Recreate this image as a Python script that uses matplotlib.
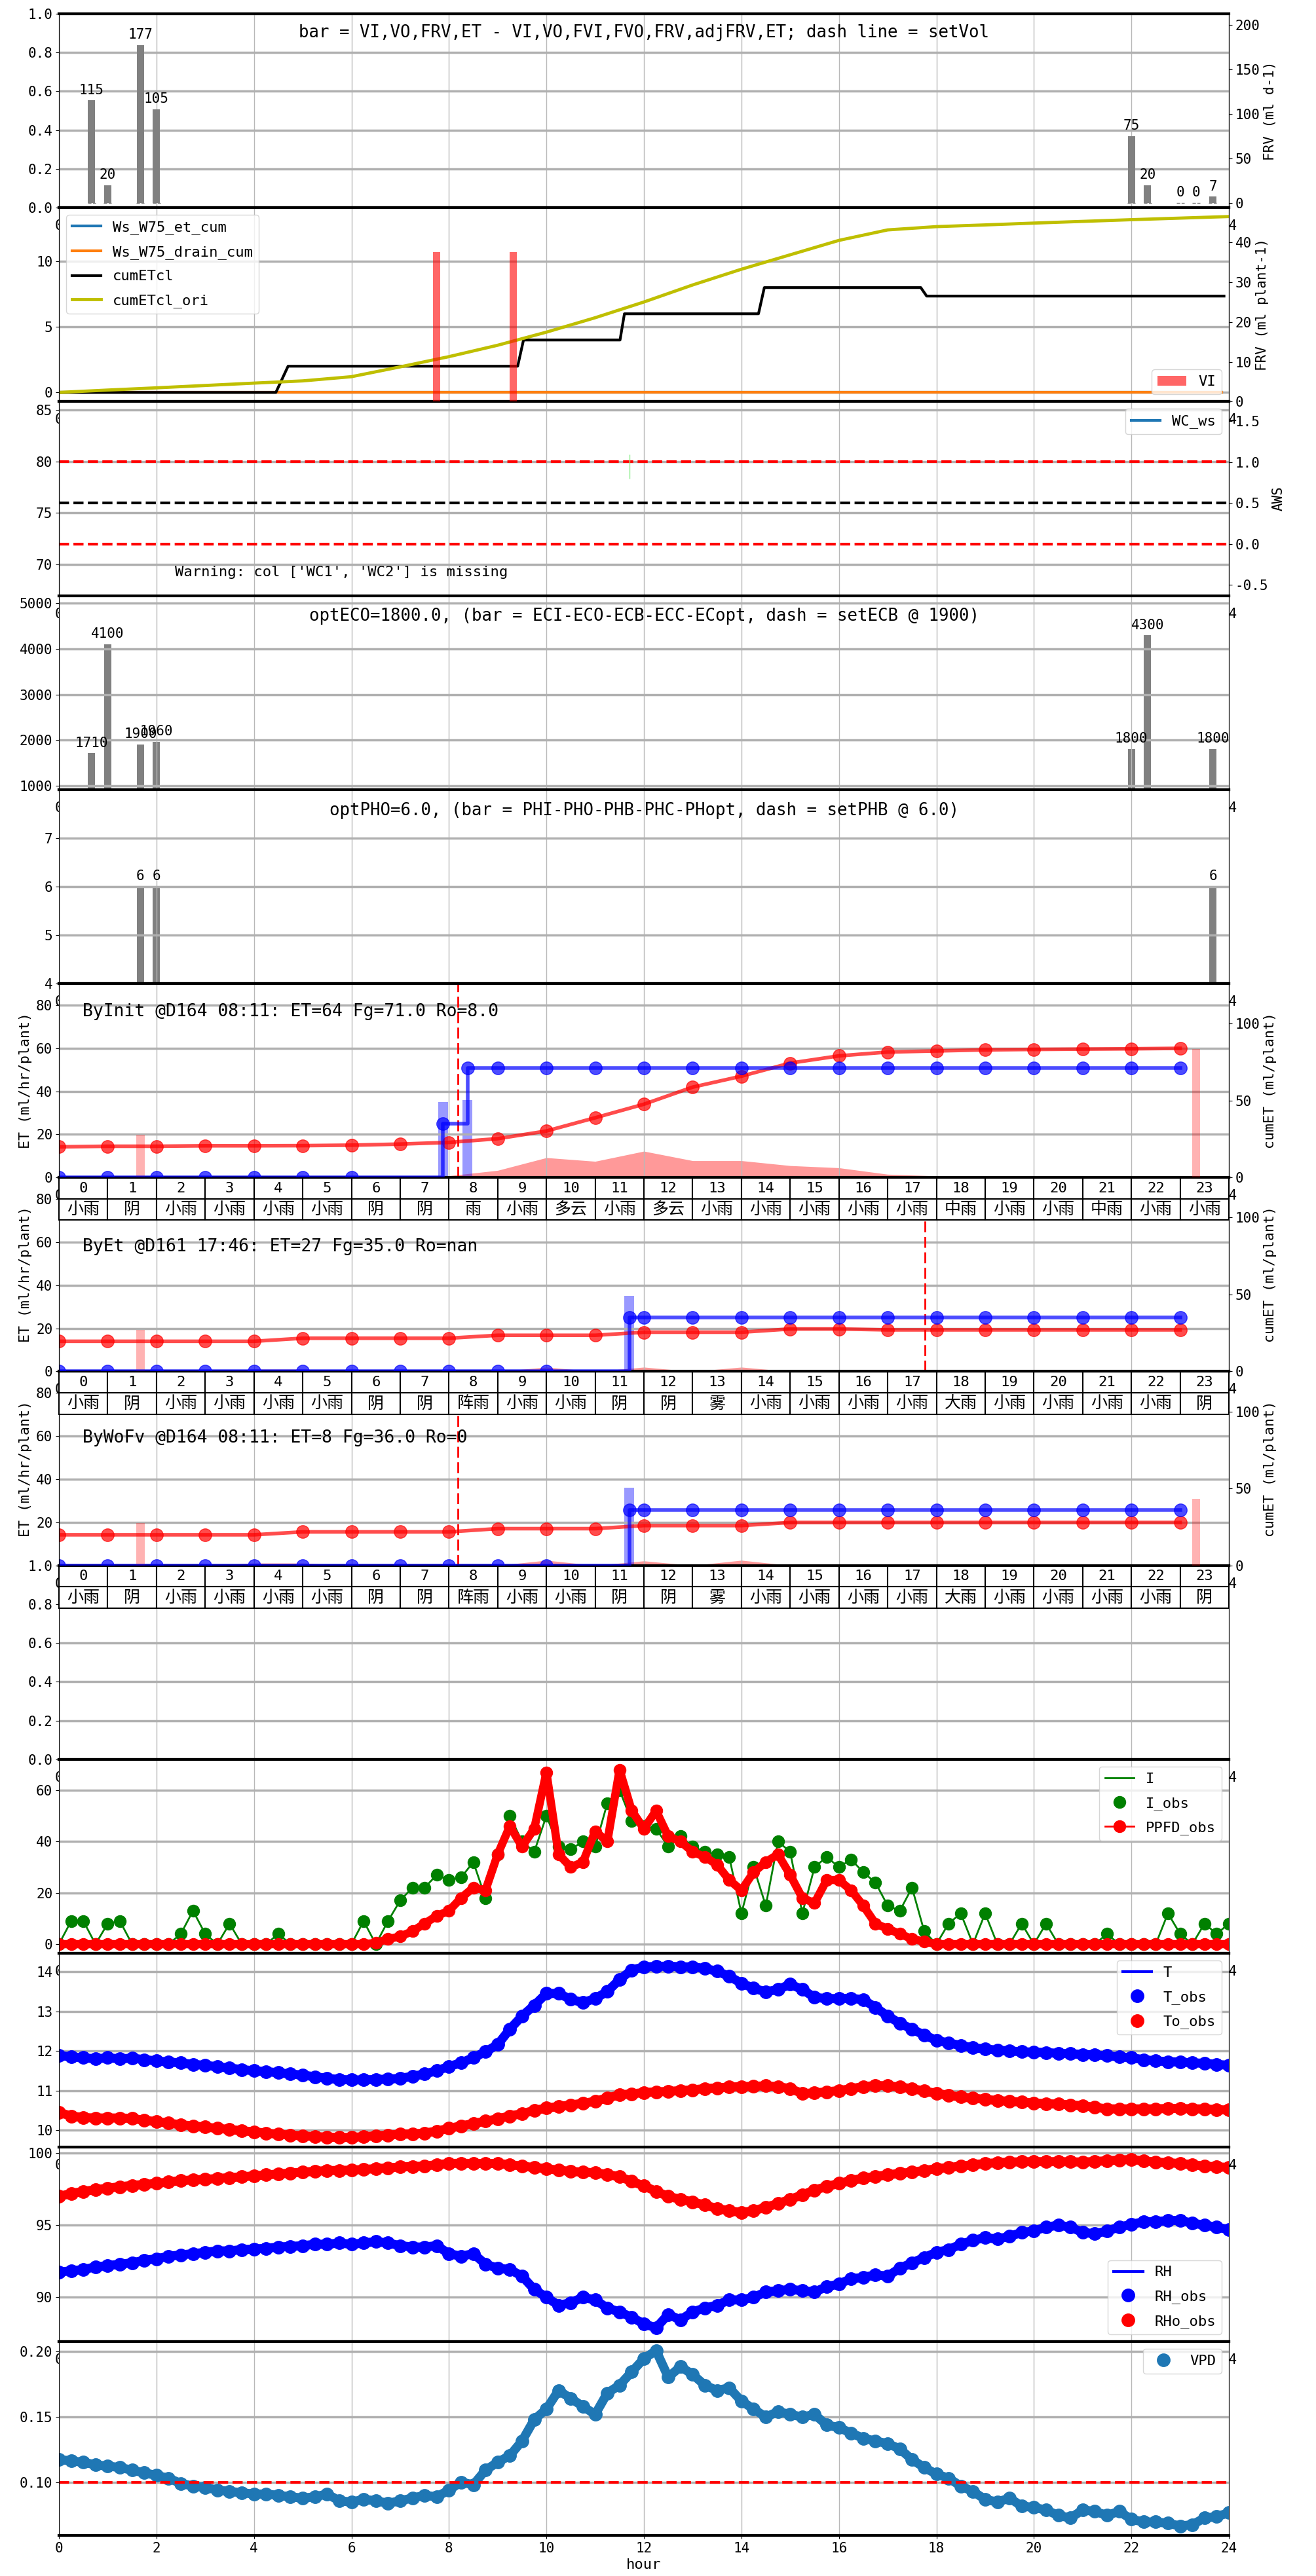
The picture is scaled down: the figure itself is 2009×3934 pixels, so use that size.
import numpy as np
import matplotlib.pyplot as plt

plt.rcParams['font.family'] = ['DejaVu Sans Mono', 'Noto Sans CJK SC']
plt.rcParams['axes.unicode_minus'] = False
plt.rcParams['font.size'] = 15

# ---------------- data ----------------
# FRV bars (ml d-1)
frv_hours = [0.67, 1.0, 1.67, 2.0, 22.0, 22.33, 23.0, 23.33, 23.67]
frv_vals = [115, 20, 177, 105, 75, 20, 0, 0, 7]
set_vol = [0, 0, 0, 0, 0, 0, 0, 0, 0]

# cumulative ET / drain
ws_hours = [0, 23.85]
ws_et_cum = [0, 0]
ws_drain_cum = [0, 0]
cl_hours = [0, 4.45, 4.7, 9.41, 9.53, 11.51, 11.6, 14.35, 14.47, 17.68, 17.8, 23.9]
cum_etcl = [0, 0, 2, 2, 4, 4, 6, 6, 8, 8, 7.35, 7.35]
ori_hours = list(range(25))
cum_etcl_ori = [0, 0.18, 0.35, 0.53, 0.71, 0.88, 1.2, 1.95, 2.73, 3.6, 4.6, 5.7, 6.9,
                8.2, 9.4, 10.5, 11.6, 12.4, 12.65, 12.78, 12.92, 13.05, 13.18, 13.3, 13.42]
vi_hours = [7.75, 9.32]
vi_vals = [37.5, 37.5]

# water content
wc_hi, wc_set, wc_lo = 80, 76, 72
wc_mark_hour = 11.7
wc_mark_range = [78.3, 80.7]

# EC and pH bars
ec_hours = [0.67, 1.0, 1.67, 2.0, 22.0, 22.33, 23.67]
ec_vals = [1710, 4100, 1900, 1960, 1800, 4300, 1800]
ph_hours = [1.67, 2.0, 23.67]
ph_vals = [6, 6, 6]

# ET panels
et_hours = list(range(24))
table_hours = [str(h) for h in range(24)]

init_et = [0, 0, 0, 0, 0, 0.2, 0.3, 0.5, 0.8, 3.3, 9.2, 7.5, 12.2, 7.8, 7.8, 5.5, 4.5,
           1.5, 0.7, 0.4, 0.3, 0.3, 0.2, 0.2]
init_cum = [19.9, 20.3, 20.3, 20.6, 20.6, 20.7, 21.0, 21.7, 22.8, 25.2, 30.2, 38.8, 47.6,
            58.7, 65.8, 74.3, 79.0, 81.5, 82.2, 82.9, 83.2, 83.4, 83.6, 83.9]
init_fg_hours = [0, 1, 2, 3, 4, 5, 6, 7.88, 8.38, 9, 10, 11, 12, 13, 14, 15, 16, 17, 18,
                 19, 20, 21, 22, 23]
init_fg = [0, 0, 0, 0, 0, 0, 0, 35, 71, 71, 71, 71, 71, 71, 71, 71, 71, 71, 71, 71, 71,
           71, 71, 71]
init_irr_hours = [7.88, 8.38]
init_irr = [35, 36]
init_pink_hours = [1.67, 23.33]
init_pink = [27.6, 83.6]
init_weather = ['小雨', '阴', '小雨', '小雨', '小雨', '小雨', '阴', '阴', '雨', '小雨', '多云',
                '小雨', '多云', '小雨', '小雨', '小雨', '小雨', '小雨', '中雨', '小雨', '小雨',
                '中雨', '小雨', '小雨']

byet_et = [0, 0, 0, 0, 1, 1, 0, 0, 0, 0, 2, 0, 2, 0, 2, 0, 0, 0, 0, 0, 0, 0, 0, 0]
byet_cum = [19.6, 19.6, 19.6, 19.6, 19.6, 21.6, 21.6, 21.6, 21.6, 23.5, 23.5, 23.5, 25.5,
            25.5, 25.5, 27.6, 27.6, 27.0, 27.0, 27.0, 27.0, 27.0, 27.0, 27.0]
byet_fg_hours = [0, 1, 2, 3, 4, 5, 6, 7, 8, 9, 10, 11.7, 12, 13, 14, 15, 16, 17, 18, 19,
                 20, 21, 22, 23]
byet_fg = [0, 0, 0, 0, 0, 0, 0, 0, 0, 0, 0, 35, 35, 35, 35, 35, 35, 35, 35, 35, 35, 35,
           35, 35]
byet_irr_hours = [11.7]
byet_irr = [35]
byet_pink_hours = [1.67]
byet_pink = [27.0]
byet_weather = ['小雨', '阴', '小雨', '小雨', '小雨', '小雨', '阴', '阴', '阵雨', '小雨', '小雨',
                '阴', '阴', '雾', '小雨', '小雨', '小雨', '小雨', '大雨', '小雨', '小雨', '小雨',
                '小雨', '阴']

wofv_et = [0, 0, 0, 0, 1.1, 1.1, 0, 0, 0, 0, 2.4, 0, 2.1, 0, 2.4, 0, 0, 0, 0, 0, 0, 0, 0, 0]
wofv_cum = [19.9, 19.9, 19.9, 19.9, 19.9, 21.8, 21.8, 21.8, 21.8, 23.9, 23.9, 23.9, 25.9,
            25.9, 25.9, 27.9, 27.9, 27.9, 27.9, 27.9, 27.9, 27.9, 27.9, 27.9]
wofv_fg_hours = byet_fg_hours
wofv_fg = [0, 0, 0, 0, 0, 0, 0, 0, 0, 0, 0, 36, 36, 36, 36, 36, 36, 36, 36, 36, 36, 36,
           36, 36]
wofv_irr_hours = [11.7]
wofv_irr = [36]
wofv_pink_hours = [1.67, 23.33]
wofv_pink = [27.4, 43.1]
wofv_weather = byet_weather

# observations every 15 min
obs_hours = np.arange(97) * 0.25
ppfd_obs = [0, 0, 0, 0, 0, 0, 0, 0, 0, 0, 0, 0, 0, 0, 0, 0, 0, 0, 0, 0, 0, 0, 0, 0, 0, 0,
            0.5, 2, 3, 5, 8, 11, 13, 18, 22, 21, 35, 46, 38, 45, 67, 35, 30, 32, 44, 40, 68,
            52, 45, 52, 42, 40, 36, 34, 31, 25, 21, 28, 32, 35, 27, 18, 16, 25, 25, 21, 15,
            8, 6, 4, 2, 1, 0, 0, 0, 0, 0, 0, 0, 0, 0, 0, 0, 0, 0, 0, 0, 0, 0, 0, 0, 0, 0, 0,
            0, 0, 0]
i_obs = [0, 9, 9, 0, 8, 9, 0, 0, 0, 0, 4, 13, 4, 0, 8, 0, 0, 0, 4, 0, 0, 0, 0, 0, 0, 9,
         0, 9, 17, 22, 22, 27, 25, 26, 32, 18, 35, 50, 40, 36, 50, 38, 37, 40, 38, 55, 60,
         48, 46, 45, 38, 42, 38, 36, 35, 34, 12, 30, 15, 40, 36, 12, 30, 34, 30, 33, 28,
         24, 15, 13, 22, 5, 0, 8, 12, 0, 12, 0, 0, 8, 0, 8, 0, 0, 0, 0, 4, 0, 0, 0, 0, 12,
         4, 0, 8, 4, 8]
t_obs = [11.89, 11.85, 11.83, 11.80, 11.83, 11.80, 11.82, 11.78, 11.75, 11.72, 11.70,
         11.66, 11.64, 11.60, 11.57, 11.53, 11.50, 11.48, 11.45, 11.42, 11.39, 11.35,
         11.31, 11.28, 11.27, 11.27, 11.28, 11.29, 11.31, 11.36, 11.42, 11.50, 11.61,
         11.70, 11.83, 11.98, 12.16, 12.55, 12.88, 13.15, 13.45, 13.45, 13.30, 13.22,
         13.32, 13.50, 13.80, 14.04, 14.12, 14.13, 14.14, 14.12, 14.12, 14.08, 14.01,
         13.88, 13.71, 13.58, 13.49, 13.55, 13.68, 13.55, 13.35, 13.32, 13.32, 13.33,
         13.29, 13.10, 12.88, 12.70, 12.55, 12.40, 12.27, 12.20, 12.14, 12.08, 12.05,
         12.02, 12.00, 11.98, 11.97, 11.96, 11.94, 11.93, 11.91, 11.90, 11.88, 11.85,
         11.83, 11.78, 11.75, 11.73, 11.72, 11.70, 11.69, 11.66, 11.64]
to_obs = [10.45, 10.36, 10.32, 10.31, 10.31, 10.31, 10.30, 10.25, 10.22, 10.18, 10.14,
          10.11, 10.08, 10.05, 10.02, 9.99, 9.96, 9.93, 9.90, 9.88, 9.86, 9.84, 9.83,
          9.82, 9.82, 9.84, 9.86, 9.88, 9.90, 9.91, 9.93, 9.98, 10.05, 10.11, 10.17,
          10.23, 10.29, 10.36, 10.42, 10.50, 10.56, 10.60, 10.64, 10.68, 10.73, 10.82,
          10.89, 10.92, 10.95, 10.97, 10.98, 11.00, 11.02, 11.05, 11.07, 11.09, 11.10,
          11.11, 11.12, 11.10, 11.05, 10.93, 10.94, 10.97, 11.00, 11.05, 11.10, 11.13,
          11.12, 11.09, 11.05, 10.99, 10.93, 10.88, 10.84, 10.81, 10.78, 10.75, 10.73,
          10.71, 10.69, 10.67, 10.66, 10.64, 10.62, 10.58, 10.54, 10.54, 10.54, 10.54,
          10.54, 10.55, 10.55, 10.54, 10.54, 10.52, 10.51]
rh_obs = [91.75, 91.84, 91.93, 92.11, 92.20, 92.30, 92.39, 92.57, 92.67, 92.85, 92.94,
          93.03, 93.12, 93.22, 93.22, 93.31, 93.35, 93.40, 93.49, 93.53, 93.58, 93.68,
          93.68, 93.77, 93.68, 93.77, 93.86, 93.77, 93.58, 93.49, 93.49, 93.58, 93.03,
          92.85, 93.03, 92.30, 92.02, 91.93, 91.47, 90.55, 90.00, 89.45, 89.63, 90.00,
          89.82, 89.26, 88.99, 88.62, 88.16, 87.89, 88.81, 88.44, 88.99, 89.26, 89.45,
          89.82, 89.82, 90.00, 90.37, 90.46, 90.55, 90.46, 90.37, 90.74, 90.92, 91.29,
          91.38, 91.56, 91.47, 92.02, 92.39, 92.76, 93.12, 93.31, 93.68, 93.95, 94.14,
          94.04, 94.23, 94.50, 94.60, 94.87, 95.00, 94.87, 94.50, 94.41, 94.60, 94.87,
          95.06, 95.24, 95.24, 95.33, 95.33, 95.15, 95.00, 94.87, 94.69]
rho_obs = [97.00, 97.20, 97.35, 97.46, 97.57, 97.67, 97.76, 97.83, 97.90, 98.00, 98.09,
           98.14, 98.18, 98.24, 98.30, 98.36, 98.42, 98.49, 98.55, 98.62, 98.68, 98.74,
           98.79, 98.80, 98.82, 98.87, 98.92, 98.98, 99.04, 99.07, 99.10, 99.20, 99.28,
           99.30, 99.28, 99.28, 99.28, 99.20, 99.10, 99.00, 98.92, 98.82, 98.73, 98.68,
           98.64, 98.52, 98.36, 98.05, 97.72, 97.35, 96.99, 96.80, 96.62, 96.40, 96.16,
           96.00, 95.88, 96.00, 96.25, 96.50, 96.80, 97.10, 97.44, 97.68, 97.90, 98.10,
           98.27, 98.38, 98.49, 98.60, 98.68, 98.80, 98.92, 99.00, 99.10, 99.20, 99.28,
           99.33, 99.38, 99.40, 99.41, 99.41, 99.41, 99.40, 99.38, 99.42, 99.47, 99.52,
           99.56, 99.47, 99.38, 99.33, 99.28, 99.20, 99.10, 99.05, 99.01]
vpd_obs = [0.1172, 0.1162, 0.1152, 0.1132, 0.1122, 0.1112, 0.1091, 0.1071, 0.1051,
           0.1030, 0.0990, 0.0970, 0.0960, 0.0939, 0.0929, 0.0919, 0.0909, 0.0909,
           0.0899, 0.0888, 0.0878, 0.0888, 0.0909, 0.0858, 0.0848, 0.0868, 0.0858,
           0.0838, 0.0858, 0.0878, 0.0899, 0.0888, 0.0939, 0.1000, 0.0980, 0.1091,
           0.1152, 0.1203, 0.1314, 0.1477, 0.1558, 0.1700, 0.1639, 0.1578, 0.1517,
           0.1680, 0.1740, 0.1842, 0.1943, 0.2004, 0.1801, 0.1882, 0.1822, 0.1740,
           0.1700, 0.1720, 0.1619, 0.1558, 0.1497, 0.1538, 0.1517, 0.1497, 0.1517,
           0.1436, 0.1416, 0.1375, 0.1335, 0.1314, 0.1294, 0.1254, 0.1172, 0.1112,
           0.1061, 0.1030, 0.0970, 0.0929, 0.0868, 0.0848, 0.0878, 0.0817, 0.0807,
           0.0787, 0.0746, 0.0726, 0.0787, 0.0777, 0.0746, 0.0777, 0.0716, 0.0696,
           0.0696, 0.0686, 0.0665, 0.0675, 0.0726, 0.0736, 0.0767]
vpd_limit = 0.10

# ---------------- figure ----------------
fig, axs = plt.subplots(13, 1, figsize=(20.09, 39.34), dpi=100, sharex=True,
                        gridspec_kw=dict(hspace=0))
fig.subplots_adjust(left=0.0448, right=0.9338, top=0.9947, bottom=0.0158)

for ax in axs:
    ax.set_xlim(0, 24)
    ax.set_xticks(range(0, 25, 2))
    ax.grid(axis='x', color='#b8b8b8', lw=1)
    ax.grid(axis='y', color='#b0b0b0', lw=2.5)
    ax.spines['top'].set_linewidth(3)
    ax.spines['bottom'].set_linewidth(3)
    ax.tick_params(labelsize=15)

# half hidden "0" / "24" labels peeking at the top of each panel
for ax in axs[1:]:
    pos = ax.get_position()
    fig.text(pos.x0, pos.y1 - 28 / 3934, '0', ha='center', va='center', fontsize=15, zorder=-1)
    fig.text(pos.x1, pos.y1 - 28 / 3934, '24', ha='center', va='center', fontsize=15, zorder=-1)

leg_kw = dict(fontsize=16, labelspacing=0.75)


def bar_labels(ax, xs, vals):
    for x, v in zip(xs, vals):
        ax.annotate(str(v), (x, v), xytext=(0, 4), textcoords='offset points',
                    ha='center', va='bottom', fontsize=15)


# panel 1: FRV
ax = axs[0]
ax.set_ylim(0, 1)
ax.set_yticks([0, 0.2, 0.4, 0.6, 0.8, 1.0])
ax.set_yticklabels(['0.0', '0.2', '0.4', '0.6', '0.8', '1.0'])
tw = ax.twinx()
tw.bar(frv_hours, frv_vals, width=0.15, color='gray')
tw.hlines(set_vol, np.array(frv_hours) - 0.08, np.array(frv_hours) + 0.08,
          colors='gray', linestyles='--', lw=1)
bar_labels(tw, frv_hours, frv_vals)
tw.set_ylim(-5.3, 212.4)
tw.set_yticks([0, 50, 100, 150, 200])
tw.set_ylabel('FRV (ml d-1)', fontsize=15)
tw.tick_params(labelsize=15)
ax.text(0.5, 0.9, 'bar = VI,VO,FRV,ET - VI,VO,FVI,FVO,FRV,adjFRV,ET; dash line = setVol',
        transform=ax.transAxes, ha='center', va='center', fontsize=18.5)

# panel 2: cumulative
ax = axs[1]
ax.plot(ws_hours, ws_et_cum, color='tab:blue', lw=3, label='Ws_W75_et_cum')
ax.plot(ws_hours, ws_drain_cum, color='tab:orange', lw=3, label='Ws_W75_drain_cum')
ax.plot(cl_hours, cum_etcl, color='black', lw=3, label='cumETcl')
ax.plot(ori_hours, cum_etcl_ori, color='y', lw=3.5, label='cumETcl_ori')
ax.set_ylim(-0.7, 14.1)
ax.set_yticks([0, 5, 10])
ax.legend(loc='upper left', **leg_kw)
tw = ax.twinx()
tw.bar(vi_hours, vi_vals, width=0.15, color='red', alpha=0.6, label='VI')
tw.set_ylim(0, 48.75)
tw.set_yticks([0, 10, 20, 30, 40])
tw.set_ylabel('FRV (ml plant-1)', fontsize=15)
tw.tick_params(labelsize=15)
tw.legend(loc='lower right', **leg_kw)

# panel 3: water content
ax = axs[2]
ax.plot([], [], color='tab:blue', lw=3, label='WC_ws')
ax.axhline(wc_hi, color='red', ls='--', lw=3)
ax.axhline(wc_set, color='black', ls='--', lw=3)
ax.axhline(wc_lo, color='red', ls='--', lw=3)
ax.vlines(wc_mark_hour, wc_mark_range[0], wc_mark_range[1], color='lightgreen', lw=1)
ax.set_ylim(67, 85.8)
ax.set_yticks([70, 75, 80, 85])
ax.legend(loc='upper right', **leg_kw)
ax.text(0.099, 0.12, "Warning: col ['WC1', 'WC2'] is missing", transform=ax.transAxes,
        ha='left', va='center', fontsize=16)
tw = ax.twinx()
tw.set_ylim(-0.63, 1.74)
tw.set_yticks([-0.5, 0.0, 0.5, 1.0, 1.5])
tw.set_ylabel('AWS', fontsize=15)
tw.tick_params(labelsize=15)

# panel 4: EC
ax = axs[3]
ax.bar(ec_hours, ec_vals, width=0.15, color='gray')
bar_labels(ax, ec_hours, ec_vals)
ax.set_ylim(912, 5170)
ax.set_yticks([1000, 2000, 3000, 4000, 5000])
ax.text(0.5, 0.895, 'optECO=1800.0, (bar = ECI-ECO-ECB-ECC-ECopt, dash = setECB @ 1900)',
        transform=ax.transAxes, ha='center', va='center', fontsize=18.5)

# panel 5: pH
ax = axs[4]
ax.bar(ph_hours, ph_vals, width=0.15, color='gray')
bar_labels(ax, ph_hours, ph_vals)
ax.set_ylim(4, 8)
ax.set_yticks([4, 5, 6, 7])
ax.text(0.5, 0.89, 'optPHO=6.0, (bar = PHI-PHO-PHB-PHC-PHopt, dash = setPHB @ 6.0)',
        transform=ax.transAxes, ha='center', va='center', fontsize=18.5)


# panels 6-8: ET
def et_panel(ax, z, et, cum, fg_h, fg, irr_h, irr, pink_h, pink, vline, label, label_y, weather):
    ax.set_zorder(z)
    tw = ax.twinx()
    tw.set_zorder(z + 0.5)
    ax.fill_between(et_hours, 0, et, color='red', alpha=0.4, lw=0)
    ax.bar(irr_h, irr, width=0.2, color='blue', alpha=0.4)
    ax.axvline(vline, color='red', ls=(0, (6, 2.5)), lw=2)
    ax.set_ylim(0, 90)
    ax.set_yticks([0, 20, 40, 60, 80])
    ax.set_ylabel('ET (ml/hr/plant)', fontsize=15.5)
    ax.text(0.48, label_y, label, ha='left', va='center', fontsize=19)
    tw.bar(pink_h, pink, width=0.17, color='red', alpha=0.3)
    tw.plot(et_hours, cum, 'o-', color='red', alpha=0.7, lw=4, ms=14)
    tw.plot(fg_h, fg, 'o-', color='blue', alpha=0.7, lw=4, ms=14, drawstyle='steps-post')
    tw.set_ylim(0, 126)
    tw.set_yticks([0, 50, 100])
    tw.set_ylabel('cumET (ml/plant)', fontsize=15.5)
    tw.tick_params(labelsize=15)
    tab = ax.table(cellText=[table_hours, weather], cellLoc='center',
                   bbox=[0, -0.22, 1, 0.22])
    tab.auto_set_font_size(False)
    tab.set_fontsize(18)
    for j in range(24):
        tab[0, j].get_text().set_fontsize(16)
        tab[0, j].set_linewidth(1.5)
        tab[1, j].set_linewidth(1.5)


et_panel(axs[5], 3, init_et, init_cum, init_fg_hours, init_fg, init_irr_hours, init_irr,
         init_pink_hours, init_pink, 8.183, 'ByInit @D164 08:11: ET=64 Fg=71.0 Ro=8.0', 77,
         init_weather)
et_panel(axs[6], 2, byet_et, byet_cum, byet_fg_hours, byet_fg, byet_irr_hours, byet_irr,
         byet_pink_hours, byet_pink, 17.767, 'ByEt @D161 17:46: ET=27 Fg=35.0 Ro=nan', 58,
         byet_weather)
et_panel(axs[7], 1, wofv_et, wofv_cum, wofv_fg_hours, wofv_fg, wofv_irr_hours, wofv_irr,
         wofv_pink_hours, wofv_pink, 8.183, 'ByWoFv @D164 08:11: ET=8 Fg=36.0 Ro=0', 59,
         wofv_weather)
# the "0" of this panel sits under the "1.0" of the panel below
axs[7].set_yticklabels(['', '20', '40', '60', '80'])

# panel 9: empty
ax = axs[8]
ax.set_ylim(0, 1)
ax.set_yticks([0, 0.2, 0.4, 0.6, 0.8, 1.0])
ax.set_yticklabels(['0.0', '0.2', '0.4', '0.6', '0.8', '1.0'])

# panel 10: light
ax = axs[9]
ax.plot(obs_hours, i_obs, color='green', lw=2, label='I')
ax.plot(obs_hours, i_obs, 'o', color='green', ms=13, label='I_obs')
ax.plot(obs_hours, ppfd_obs, color='red', lw=9, label='_band')
ax.plot(obs_hours, ppfd_obs, 'o-', color='red', lw=2, ms=13, label='PPFD_obs')
ax.set_ylim(-3.6, 72)
ax.set_yticks([0, 20, 40, 60])
ax.legend(loc='upper right', **leg_kw)

# panel 11: temperature
ax = axs[10]
ax.plot(obs_hours, t_obs, color='blue', lw=10, label='_band')
ax.plot(obs_hours, to_obs, color='red', lw=10, label='_band')
ax.plot(obs_hours, t_obs, color='blue', lw=3, label='T')
ax.plot(obs_hours, t_obs, 'o', color='blue', ms=14, label='T_obs')
ax.plot(obs_hours, to_obs, 'o', color='red', ms=14, label='To_obs')
ax.set_ylim(9.57, 14.46)
ax.set_yticks([10, 11, 12, 13, 14])
ax.legend(loc='upper right', **leg_kw)

# panel 12: humidity
ax = axs[11]
ax.plot(obs_hours, rh_obs, color='blue', lw=10, label='_band')
ax.plot(obs_hours, rho_obs, color='red', lw=10, label='_band')
ax.plot(obs_hours, rh_obs, color='blue', lw=3, label='RH')
ax.plot(obs_hours, rh_obs, 'o', color='blue', ms=14, label='RH_obs')
ax.plot(obs_hours, rho_obs, 'o', color='red', ms=14, label='RHo_obs')
ax.set_ylim(86.95, 100.4)
ax.set_yticks([90, 95, 100])
ax.legend(loc='lower right', **leg_kw)

# panel 13: VPD
ax = axs[12]
ax.plot(obs_hours, vpd_obs, color='tab:blue', lw=10, label='_band')
ax.plot(obs_hours, vpd_obs, 'o', color='tab:blue', ms=14, label='VPD')
ax.axhline(vpd_limit, color='red', ls='--', lw=3)
ax.set_ylim(0.0594, 0.2075)
ax.set_yticks([0.10, 0.15, 0.20])
ax.set_yticklabels(['0.10', '0.15', '0.20'])
ax.legend(loc='upper right', **leg_kw)
ax.set_xlabel('hour', fontsize=16)

fig.savefig('out.png', dpi=100)
